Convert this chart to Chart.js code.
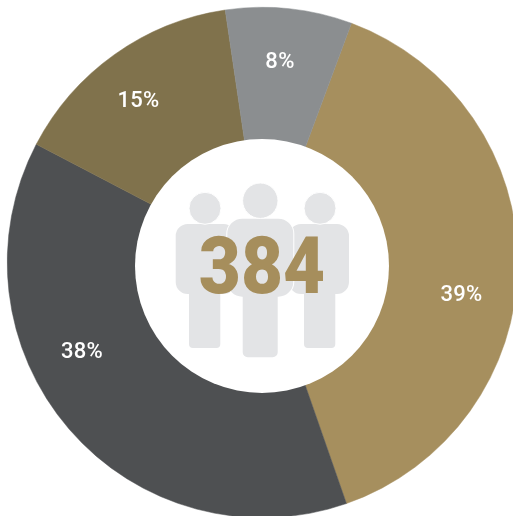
<!DOCTYPE html>
<html>
<head>
<meta charset="utf-8">
<style>
  html, body { margin: 0; padding: 0; background: #fff; overflow: hidden; width: 513px; height: 516px; }
  #wrap { position: relative; width: 513px; height: 516px; overflow: hidden; }
  canvas { position: absolute; left: 0; top: 0; }
</style>
</head>
<body>
<div id="wrap"><canvas id="donutChart" width="520" height="520" style="width:520px;height:520px"></canvas></div>
<script src="https://cdn.jsdelivr.net/npm/chart.js@4/dist/chart.umd.min.js"></script>
<script>
const segments = ['39%', '38%', '15%', '8%'];
const shares = [39, 38, 15, 8];
const colors = ['#a68f5e', '#4e5052', '#80724c', '#8b8e90'];
const totalPeople = '384';

// label centres, they are not at the slice middle in the original
const labelSpots = [[461.5, 295.5], [82, 352.5], [138.5, 101.5], [280, 62.5]];

function person(c, headX, headY, headR, torso, legs, gap) {
  const shape = new Path2D();
  shape.roundRect(torso[0], torso[1], torso[2], torso[3], torso[4]);
  shape.roundRect(legs[0], torso[1] + 20, legs[1] - legs[0], legs[2] - torso[1] - 20, legs[3]);
  c.strokeStyle = '#fff';
  c.lineWidth = gap;
  c.stroke(shape);
  c.fillStyle = '#e3e4e6';
  c.fill(shape);
  c.beginPath();
  c.arc(headX, headY, headR, 0, Math.PI * 2);
  c.fill();
  c.lineWidth = 1;
  c.stroke();
}

const centerPlugin = {
  id: 'centerPlugin',
  afterDatasetsDraw(chart) {
    const c = chart.ctx;
    c.save();
    // hole sits a bit lower than the ring centre
    c.fillStyle = '#fff';
    c.beginPath();
    c.arc(262, 266, 127, 0, Math.PI * 2);
    c.fill();

    person(c, 205, 208.3, 16, [175.7, 224, 60, 70, 12], [189, 220.3, 348, 4], 0);
    person(c, 320, 208.3, 16, [289, 224, 60, 70, 12], [304, 335.3, 348, 4], 0);
    person(c, 260.3, 200.7, 17.7, [227.3, 218.7, 66, 78, 15], [242.7, 277.7, 357.3, 5], 2);

    // center number
    c.fillStyle = '#a68e5c';
    c.textAlign = 'center';
    c.textBaseline = 'alphabetic';
    c.font = '900 79px Roboto';
    c.translate(262, 293);
    c.scale(0.92, 1);
    c.fillText(totalPeople, 0, 0);
    c.restore();

    c.save();
    c.fillStyle = '#fff';
    c.textAlign = 'center';
    c.textBaseline = 'middle';
    c.font = '500 22px Roboto';
    c.letterSpacing = '0.3px';
    segments.forEach((s, i) => {
      c.fillText(s, labelSpots[i][0], labelSpots[i][1]);
    });
    c.restore();
  }
};

new Chart(document.getElementById('donutChart').getContext('2d'), {
  type: 'doughnut',
  data: {
    labels: segments,
    datasets: [{
      data: shares,
      backgroundColor: colors,
      borderColor: colors,
      borderWidth: 0.5
    }]
  },
  options: {
    responsive: false,
    animation: false,
    rotation: 20.4,
    cutout: '45%',
    layout: { padding: { left: 7, right: 2, top: 7, bottom: 2 } },
    plugins: {
      legend: { display: false },
      tooltip: { enabled: false }
    }
  },
  plugins: [centerPlugin]
});
</script>
</body>
</html>
